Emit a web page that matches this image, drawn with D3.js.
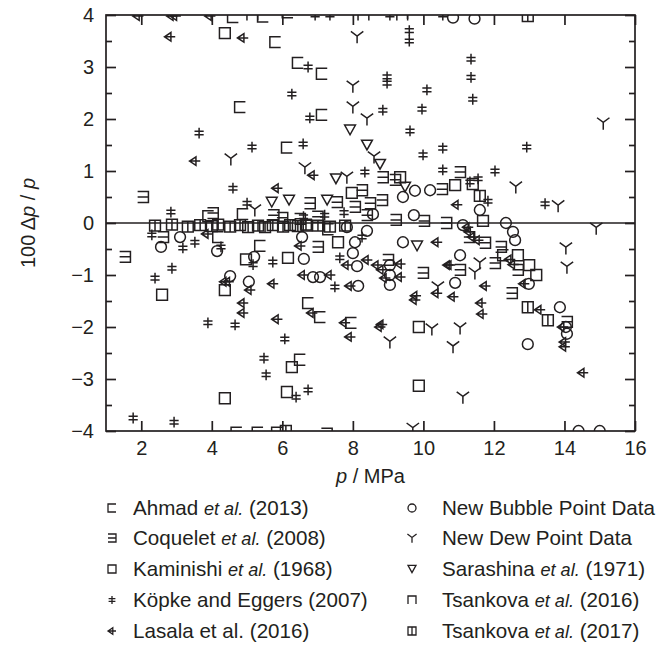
<!DOCTYPE html>
<html><head><meta charset="utf-8">
<script src="https://cdn.jsdelivr.net/npm/d3@7"></script>
<style>
body{margin:0;background:#fff}
text{font-family:"Liberation Sans",Arial,sans-serif;fill:#231f20}
</style>
</head><body>
<svg id="c" width="661" height="645"></svg>
<script>
// ---- data: [pressure / MPa, 100*dp/p] ----
const xTicks = [2,4,6,8,10,12,14,16];
const yTicks = [-4,-3,-2,-1,0,1,2,3,4];
const yMinor = [-3.5,-2.5,-1.5,-0.5,0.5,1.5,2.5,3.5];

const ahmad = [[4.6,3.96],[5.45,3.97],[6.15,4.05],[5.8,3.48],[4.8,2.23],[6.44,3.08],[7.12,2.87],[7.12,2.08],[6.13,1.45],[3.9,0.13],[4.88,0.17],[4.18,-0.27],[5.37,-0.44],[6.7,-0.05],[7.3,-0.12],[6.73,-1.54],[7.07,-1.81],[7.95,-1.92],[6.5,-2.63],[12.26,-0.62],[4.7,-4.03],[5.3,-4.03],[5.85,-4.03]];
const coquelet = [[2.05,0.5],[1.54,-0.65],[2.62,-0.27],[4.03,0.19],[5.75,0.15],[6.0,0.1],[6.5,0.08],[7.0,0.12],[6.78,0.38],[7.55,0.4],[8.06,0.31],[8.26,0.63],[8.49,0.38],[8.83,0.44],[8.85,0.88],[9.2,0.83],[10.53,0.65],[8.4,0.15],[9.22,0.06],[10.02,0.04],[10.65,0.0],[7.01,-0.46],[9.0,-0.71],[9.99,-0.96],[11.04,0.98],[11.3,-0.27],[11.75,-0.38],[11.04,-0.9],[12.2,-0.46],[12.03,-0.77],[12.68,-0.9],[12.51,-1.35],[14.07,-1.9],[7.26,-4.05]];
const kaminishi = [[4.37,3.65],[9.34,0.88],[7.97,0.58],[10.9,0.73],[11.4,0.75],[11.69,0.04],[4.97,-0.7],[7.58,-0.37],[6.16,-0.67],[2.59,-1.38],[4.37,-1.29],[4.37,-3.37],[9.87,-2.0],[6.27,-2.77],[6.13,-3.25],[9.87,-3.13],[12.68,-0.62],[13.0,-0.81],[13.2,-1.0]];
const kopke = [[3.64,1.73],[5.14,1.46],[9.6,3.7],[9.6,3.5],[6.73,3.0],[8.97,2.81],[8.97,2.69],[6.27,2.48],[10.1,2.56],[8.85,2.17],[9.96,2.19],[6.78,2.02],[9.62,1.77],[6.59,1.52],[10.55,1.44],[11.35,3.15],[11.35,2.8],[11.4,2.38],[12.93,1.46],[4.6,0.67],[5.0,0.38],[2.84,0.21],[2.3,-0.23],[3.18,-0.48],[3.52,-0.37],[4.26,-0.46],[5.17,-0.8],[5.73,-0.75],[2.87,-0.87],[2.39,-1.06],[8.34,0.98],[9.99,1.31],[10.55,1.02],[8.26,-0.27],[7.63,-0.67],[7.49,-1.23],[11.32,0.79],[11.55,0.85],[11.83,0.42],[12.03,1.0],[13.45,0.37],[3.89,-1.92],[4.66,-1.96],[5.48,-2.6],[5.54,-2.92],[1.77,-3.75],[2.93,-3.83],[6.07,-2.23],[6.39,-3.35],[6.73,-3.21],[6.93,4.0],[7.35,4.0],[9.05,4.0],[10.55,4.0],[6.6,0.12],[7.2,0.15],[7.75,0.2]];
const lasala = [[1.91,3.98],[2.87,3.98],[2.97,3.98],[3.95,3.98],[2.81,3.58],[4.88,3.56],[3.52,1.19],[5.85,0.67],[6.87,0.92],[3.86,-0.21],[4.37,-1.13],[4.47,-1.13],[5.73,-1.17],[6.5,-0.44],[10.38,-0.37],[7.83,-0.81],[8.4,-0.71],[8.68,-0.81],[9.34,-0.79],[8.82,-0.9],[8.91,-1.06],[9.34,-1.04],[10.7,-0.81],[6.59,-1.0],[7.35,-1.0],[7.92,-1.21],[10.95,0.35],[11.26,-0.08],[11.3,-0.17],[11.4,-0.27],[11.55,-0.33],[10.75,-0.81],[11.75,-1.21],[12.45,-0.7],[12.55,-0.8],[12.85,-1.17],[5.08,-1.29],[4.88,-1.54],[4.88,-1.73],[5.85,-1.85],[6.84,-1.73],[7.77,-1.92],[7.92,-2.19],[8.77,-2.0],[8.82,-1.95],[10.38,-1.35],[9.76,-1.48],[9.78,-1.4],[10.84,-1.42],[11.63,-1.54],[11.66,-1.75],[13.3,-1.67],[13.95,-2.0],[14.0,-2.29],[14.0,-2.38],[14.52,-2.88]];
const bubble = [[10.84,3.95],[11.45,3.93],[9.76,0.62],[10.19,0.63],[9.42,0.5],[8.57,0.17],[9.73,0.15],[2.56,-0.46],[3.1,-0.27],[4.15,-0.54],[5.2,-0.65],[4.52,-1.02],[5.05,-1.13],[6.56,-0.27],[7.83,-0.08],[8.4,-0.15],[8.06,-0.37],[8.0,-0.58],[9.42,-0.37],[6.61,-0.69],[8.12,-0.83],[9.05,-0.81],[9.05,-1.0],[6.87,-1.04],[7.07,-1.04],[9.05,-1.19],[8.15,-1.21],[11.6,0.25],[11.12,-0.04],[12.34,0.0],[12.54,-0.17],[12.6,-0.33],[11.04,-0.62],[10.9,-1.15],[12.99,-1.17],[13.87,-1.62],[14.04,-2.0],[14.07,-2.13],[12.96,-2.33],[14.4,-4.0],[15.0,-4.0]];
const dew = [[8.12,3.58],[8.0,2.63],[8.0,2.23],[8.4,2.0],[15.1,1.92],[4.54,1.23],[5.22,0.25],[8.6,1.27],[6.64,1.06],[7.83,0.88],[12.62,0.69],[13.82,0.33],[14.9,-0.1],[14.04,-0.48],[14.07,-0.85],[11.6,-0.77],[11.46,-0.96],[10.41,-1.23],[10.24,-2.04],[9.05,-2.29],[11.04,-2.02],[10.84,-2.38],[11.12,-3.35],[9.7,-3.95],[9.55,4.05]];
const sarashina = [[7.92,1.79],[8.4,1.5],[8.77,1.13],[7.52,0.85],[9.48,0.69],[6.19,0.44],[5.7,0.4],[7.27,0.44],[9.82,-0.44]];
const tsank16 = [[5.15,4.0],[8.3,4.0],[9.4,4.0]];
const tsank17 = [[2.39,-0.05],[2.87,-0.03],[3.32,-0.07],[3.67,-0.04],[4.0,-0.06],[4.18,-0.03],[4.52,-0.07],[4.8,-0.04],[5.03,-0.08],[5.31,-0.05],[5.51,-0.08],[5.73,-0.04],[6.02,-0.07],[6.22,-0.04],[6.44,-0.06],[6.67,-0.03],[7.01,-0.05],[7.35,-0.07],[7.78,-0.05],[11.6,0.52],[12.96,-1.62],[13.53,-1.87],[12.96,3.98],[6.1,-4.0]];

const legendNames = [
  [{t:"Ahmad "},{t:"et al.",i:1},{t:" (2013)"}],
  [{t:"Coquelet "},{t:"et al.",i:1},{t:" (2008)"}],
  [{t:"Kaminishi "},{t:"et al.",i:1},{t:" (1968)"}],
  [{t:"Köpke and Eggers (2007)"}],
  [{t:"Lasala et al. (2016)"}],
  [{t:"New Bubble Point Data"}],
  [{t:"New Dew Point Data"}],
  [{t:"Sarashina "},{t:"et al.",i:1},{t:" (1971)"}],
  [{t:"Tsankova "},{t:"et al.",i:1},{t:" (2016)"}],
  [{t:"Tsankova "},{t:"et al.",i:1},{t:" (2017)"}]
];
const seriesData = [ahmad,coquelet,kaminishi,kopke,lasala,bubble,dew,sarashina,tsank16,tsank17];
const seriesShape = ["ahmad","coquelet","kaminishi","kopke","lasala","bubble","dew","sarashina","tsank16","tsank17"];

// ---- drawing ----
const ink = "#231f20";
const svg = d3.select("#c");
const L=106, R=635, T=15, B=431;
const x = d3.scaleLinear().domain([1,16]).range([L,R]);
const y = d3.scaleLinear().domain([-4,4]).range([B,T]);

function shape(k, s){
  const h=s;
  switch(k){
    case "ahmad": return `M${h},${-h}H${-h}V${h}H${h}`;
    case "coquelet": return `M${-h},${-h}H${h}V${h}H${-h}M${-h},0H${h}`;
    case "kaminishi": return `M${-h},${-h}H${h}V${h}H${-h}Z`;
    case "kopke": return `M0,${-h}V${h}M${-h*0.85},${-h*0.33}H${h*0.85}M${-h*0.85},${h*0.33}H${h*0.85}`;
    case "lasala": return `M${-h},0L${h*0.2},${-h*0.8}V${h*0.8}ZM${-h},0H${h}`;
    case "bubble": return `M${h},0A${h},${h} 0 1,1 ${-h},0A${h},${h} 0 1,1 ${h},0Z`;
    case "dew": return `M${-h*1.15},${-h}L0,${-h*0.15}L${h*1.15},${-h}M0,${-h*0.15}V${h*1.2}`;
    case "sarashina": return `M${-h},${-h*0.9}H${h}L0,${h*0.9}Z`;
    case "tsank16": return `M${-h},${h}V${-h}H${h}V${h}`;
    case "tsank17": return `M${-h},${-h}H${h}V${h}H${-h}ZM0,${-h}V${h}`;
  }
}

svg.append("defs").append("clipPath").attr("id","pc")
  .append("rect").attr("x",L).attr("y",T).attr("width",R-L).attr("height",B-T);

// zero line
svg.append("line").attr("x1",L).attr("x2",R).attr("y1",y(0)).attr("y2",y(0))
  .attr("stroke",ink).attr("stroke-width",1.4);

// markers
const pg = svg.append("g").attr("clip-path","url(#pc)");
seriesData.forEach((d,i)=>{
  pg.selectAll(null).data(d).enter().append("path")
    .attr("transform",p=>`translate(${x(p[0])},${y(p[1])})`)
    .attr("d",shape(seriesShape[i],5.4))
    .attr("fill","none").attr("stroke",ink).attr("stroke-width",1.5);
});

// frame
svg.append("rect").attr("x",L).attr("y",T).attr("width",R-L).attr("height",B-T)
  .attr("fill","none").attr("stroke",ink).attr("stroke-width",1.7);

// axes with inward ticks
const fs = 20;
const axB = svg.append("g").attr("transform",`translate(0,${B})`)
  .call(d3.axisBottom(x).tickValues(xTicks).tickSizeInner(-10).tickSizeOuter(0).tickPadding(18).tickFormat(d3.format("d")));
const axT = svg.append("g").attr("transform",`translate(0,${T})`)
  .call(d3.axisTop(x).tickValues(xTicks).tickSizeInner(-10).tickSizeOuter(0).tickFormat(""));
const axL = svg.append("g").attr("transform",`translate(${L},0)`)
  .call(d3.axisLeft(y).tickValues(yTicks).tickSizeInner(-10).tickSizeOuter(0).tickPadding(12)
    .tickFormat(d=>d<0?"\u2212"+Math.abs(d):d));
const axR = svg.append("g").attr("transform",`translate(${R},0)`)
  .call(d3.axisRight(y).tickValues(yTicks).tickSizeInner(-10).tickSizeOuter(0).tickFormat(""));
const axLm = svg.append("g").attr("transform",`translate(${L},0)`)
  .call(d3.axisLeft(y).tickValues(yMinor).tickSizeInner(-6).tickSizeOuter(0).tickFormat(""));
const axRm = svg.append("g").attr("transform",`translate(${R},0)`)
  .call(d3.axisRight(y).tickValues(yMinor).tickSizeInner(-6).tickSizeOuter(0).tickFormat(""));
[axB,axT,axL,axR,axLm,axRm].forEach(a=>{
  a.select(".domain").remove();
  a.selectAll("line").attr("stroke",ink).attr("stroke-width",1.7);
  a.selectAll("text").attr("font-size",fs).attr("fill",ink)
    .attr("font-family","'Liberation Sans',Arial,sans-serif");
});
axB.selectAll("text").attr("dy","0.3em");

// axis titles
const xt = svg.append("text").attr("x",(L+R)/2).attr("y",483).attr("text-anchor","middle").attr("font-size",fs);
xt.append("tspan").attr("font-style","italic").text("p");
xt.append("tspan").text(" / MPa");

const yt = svg.append("text").attr("transform",`translate(35,${y(0)}) rotate(-90)`).attr("text-anchor","middle").attr("font-size",fs);
yt.append("tspan").text("100 \u0394");
yt.append("tspan").attr("font-style","italic").text("p");
yt.append("tspan").text(" / ");
yt.append("tspan").attr("font-style","italic").text("p");

// legend
const lfs = 20.6;
const rowY = [508,538,569,600,631];
legendNames.forEach((nm,i)=>{
  const col = i<5?0:1, r = i%5;
  const mx = col===0?112:412, tx = col===0?133:442;
  svg.append("path").attr("transform",`translate(${mx},${rowY[r]})`)
    .attr("d",shape(seriesShape[i],4)).attr("fill","none").attr("stroke",ink).attr("stroke-width",1.3);
  const t = svg.append("text").attr("x",tx).attr("y",rowY[r]).attr("dy","0.36em").attr("font-size",lfs);
  nm.forEach(s=>{const ts=t.append("tspan").text(s.t); if(s.i) ts.attr("font-style","italic").attr("font-size",lfs*0.88);});
});
</script>
</body></html>
